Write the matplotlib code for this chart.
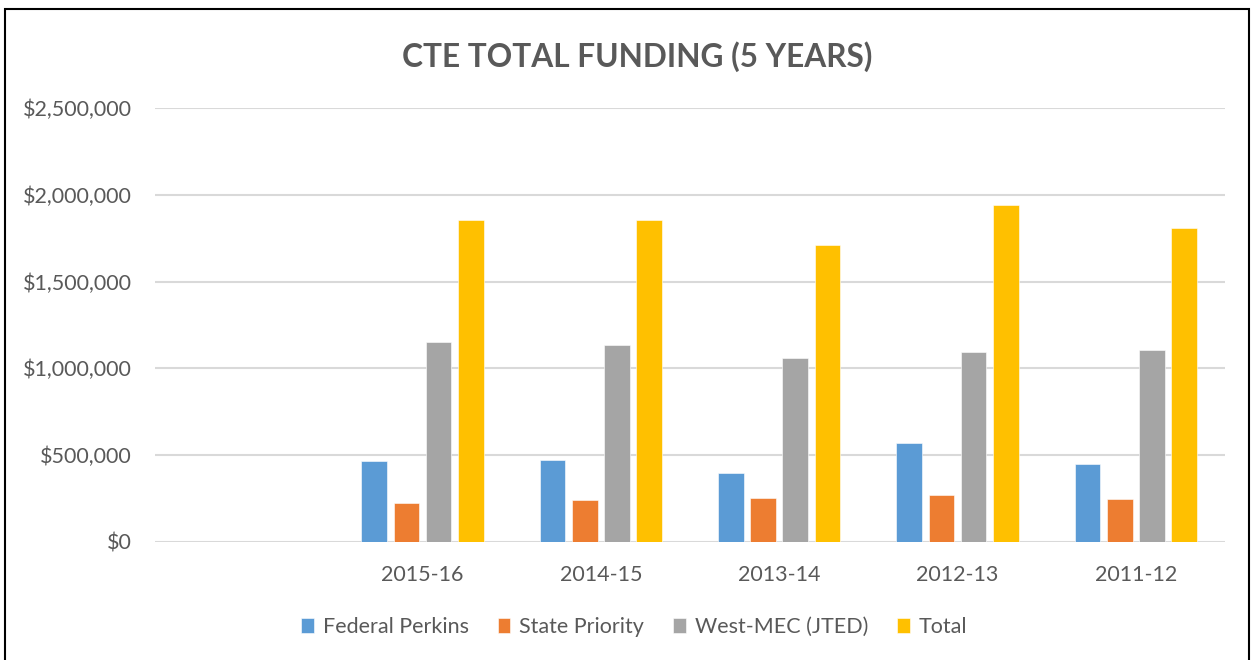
import matplotlib
matplotlib.use("Agg")
import matplotlib.pyplot as plt
import numpy as np
from matplotlib.patches import Rectangle
from matplotlib.ticker import FuncFormatter

categories = ["", "2015-16", "2014-15", "2013-14", "2012-13", "2011-12"]
series_names = ["Federal Perkins", "State Priority", "West-MEC (JTED)", "Total"]
federal_perkins = [np.nan, 468000, 473000, 395000, 568000, 447000]
state_priority = [np.nan, 225000, 239000, 251000, 270000, 247000]
west_mec = [np.nan, 1153000, 1137000, 1061000, 1097000, 1107000]
total = [np.nan, 1856000, 1857000, 1711000, 1940000, 1807000]
colors = ["#5B9BD5", "#ED7D31", "#A5A5A5", "#FFC000"]

plt.rcParams['font.family'] = ['Lato', 'DejaVu Sans']
text_color = "#595959"

fig = plt.figure(figsize=(12.51, 6.6), dpi=100)
ax = fig.add_axes([155/1251, 1-541.7/660, (1225-155)/1251, (541.7-108.3)/660])

x = np.arange(len(categories))
step = 0.181
width = 0.144
all_series = [federal_perkins, state_priority, west_mec, total]
for i, (vals, name, c) in enumerate(zip(all_series, series_names, colors)):
    ax.bar(x + (i - 1.5) * step, vals, width, color=c, label=name, zorder=3,
           edgecolor='white', linewidth=0.4)

ax.set_xlim(-0.5, len(categories) - 0.5)
ax.set_ylim(0, 2500000)
ax.set_yticks(np.arange(0, 2500001, 500000))
ax.yaxis.set_major_formatter(FuncFormatter(lambda v, p: "${:,.0f}".format(v)))
ax.set_xticks(x)
ax.set_xticklabels(categories)
ax.grid(axis='y', color='#D9D9D9', linewidth=1.5, zorder=0)
for s in ax.spines.values():
    s.set_visible(False)
ax.tick_params(axis='both', length=0, labelsize=15.5, colors=text_color)
ax.tick_params(axis='y', pad=16.5)
ax.tick_params(axis='x', pad=17)

fig.text(637/1251, 1-57/660, "CTE TOTAL FUNDING (5 YEARS)", ha='center', va='center',
         fontsize=22.8, fontweight='bold', color=text_color)

leg = fig.legend(loc='center', bbox_to_anchor=(634/1251, 1-627/660), ncol=4,
                 frameon=False, fontsize=15.5, handlelength=0.6, handleheight=0.75,
                 handletextpad=0.4, columnspacing=1.35)
for t in leg.get_texts():
    t.set_color(text_color)

fig.patches.append(Rectangle((5/1251, -0.05), (1249-5)/1251, 1.05 - 9/660 + 0.0,
                             transform=fig.transFigure, fill=False, edgecolor='black',
                             linewidth=1.5))

fig.savefig("out.png", dpi=100)
